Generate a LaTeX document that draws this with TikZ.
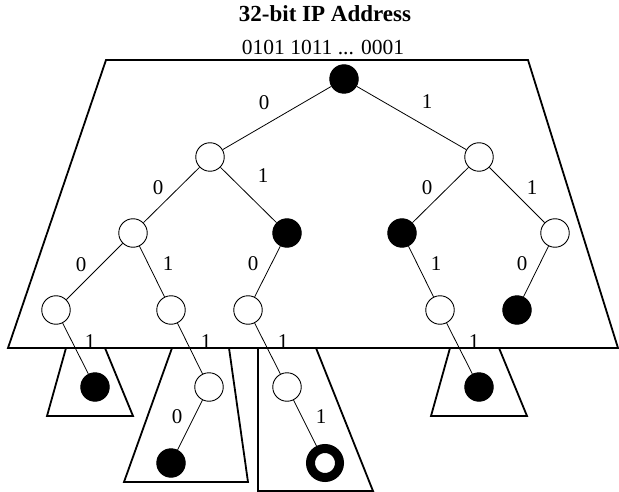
\documentclass[tikz,border=0pt]{standalone}
\usepackage{fontspec}
\setmainfont{Liberation Serif}
\begin{document}
\begin{tikzpicture}[x=1pt,y=-1pt,
  wnode/.style={circle,draw,line width=0.9pt,fill=white,minimum size=28.5pt,inner sep=0pt},
  bnode/.style={circle,draw,line width=0.9pt,fill=black,minimum size=28.5pt,inner sep=0pt},
  ringnode/.style={circle,draw,line width=9pt,fill=white,minimum size=29pt,inner sep=0pt},
  edge/.style={line width=0.8pt},
  frame/.style={line width=1.8pt,line join=miter},
  lbl/.style={font=\fontsize{21}{25}\selectfont,inner sep=0pt},
]
\useasboundingbox (0,0) rectangle (619,492);
% titles
\node[font=\fontsize{23}{27}\selectfont\bfseries,anchor=base,inner sep=0pt] (title) at (325,22) {32-bit IP Address};
\node[font=\fontsize{21.5}{25}\selectfont,anchor=base,inner sep=0pt] (addr) at (323,54.5) {0101 1011 ... 0001};
% frames
\draw[frame] (106,60) -- (528,60) -- (618,348) -- (8,348) -- cycle;
\draw[frame] (66,348) -- (47,416) -- (133,416) -- (105,348);
\draw[frame] (172,348) -- (124,482) -- (248,482) -- (229,348);
\draw[frame] (258,348) -- (258,491) -- (373,491) -- (316,348);
\draw[frame] (450,348) -- (431,416) -- (527,416) -- (499,348);
% nodes
\node[bnode] (r) at (344,79) {};
\node[wnode] (a) at (210,157) {};
\node[wnode] (b) at (479,157) {};
\node[wnode] (aa) at (133,233) {};
\node[bnode] (ab) at (287,233) {};
\node[bnode] (ba) at (402,233) {};
\node[wnode] (bb) at (555,233) {};
\node[wnode] (aaa) at (56,310) {};
\node[wnode] (aab) at (171,310) {};
\node[wnode] (aba) at (248,310) {};
\node[wnode] (bab) at (440,310) {};
\node[bnode] (bba) at (517,310) {};
\node[bnode] (aaab) at (95,387) {};
\node[wnode] (aabb) at (209,387) {};
\node[wnode] (abab) at (287,387) {};
\node[bnode] (babb) at (479,387) {};
\node[bnode] (aabba) at (171,463) {};
\node[ringnode] (ababb) at (325,463) {};
% edges
\draw[edge] (r) -- (a);
\draw[edge] (r) -- (b);
\draw[edge] (a) -- (aa);
\draw[edge] (a) -- (ab);
\draw[edge] (b) -- (ba);
\draw[edge] (b) -- (bb);
\draw[edge] (aa) -- (aaa);
\draw[edge] (aa) -- (aab);
\draw[edge] (ab) -- (aba);
\draw[edge] (ba) -- (bab);
\draw[edge] (bb) -- (bba);
\draw[edge] (aaa) -- (aaab);
\draw[edge] (aab) -- (aabb);
\draw[edge] (aba) -- (abab);
\draw[edge] (bab) -- (babb);
\draw[edge] (aabb) -- (aabba);
\draw[edge] (abab) -- (ababb);
% labels
\node[lbl] (l1) at (264,103) {0};
\node[lbl] (l2) at (427,102) {1};
\node[lbl] (l3) at (158,188) {0};
\node[lbl] (l4) at (263,176) {1};
\node[lbl] (l5) at (427,188) {0};
\node[lbl] (l6) at (532,188) {1};
\node[lbl] (l7) at (81,265) {0};
\node[lbl] (l8) at (168,264) {1};
\node[lbl] (l9) at (253,264) {0};
\node[lbl] (l10) at (436,264) {1};
\node[lbl] (l11) at (522,264) {0};
\node[lbl] (l12) at (90,342) {1};
\node[lbl] (l13) at (206,342) {1};
\node[lbl] (l14) at (283,342) {1};
\node[lbl] (l15) at (474,342) {1};
\node[lbl] (l16) at (177,417) {0};
\node[lbl] (l17) at (321,417) {1};
\end{tikzpicture}
\end{document}
